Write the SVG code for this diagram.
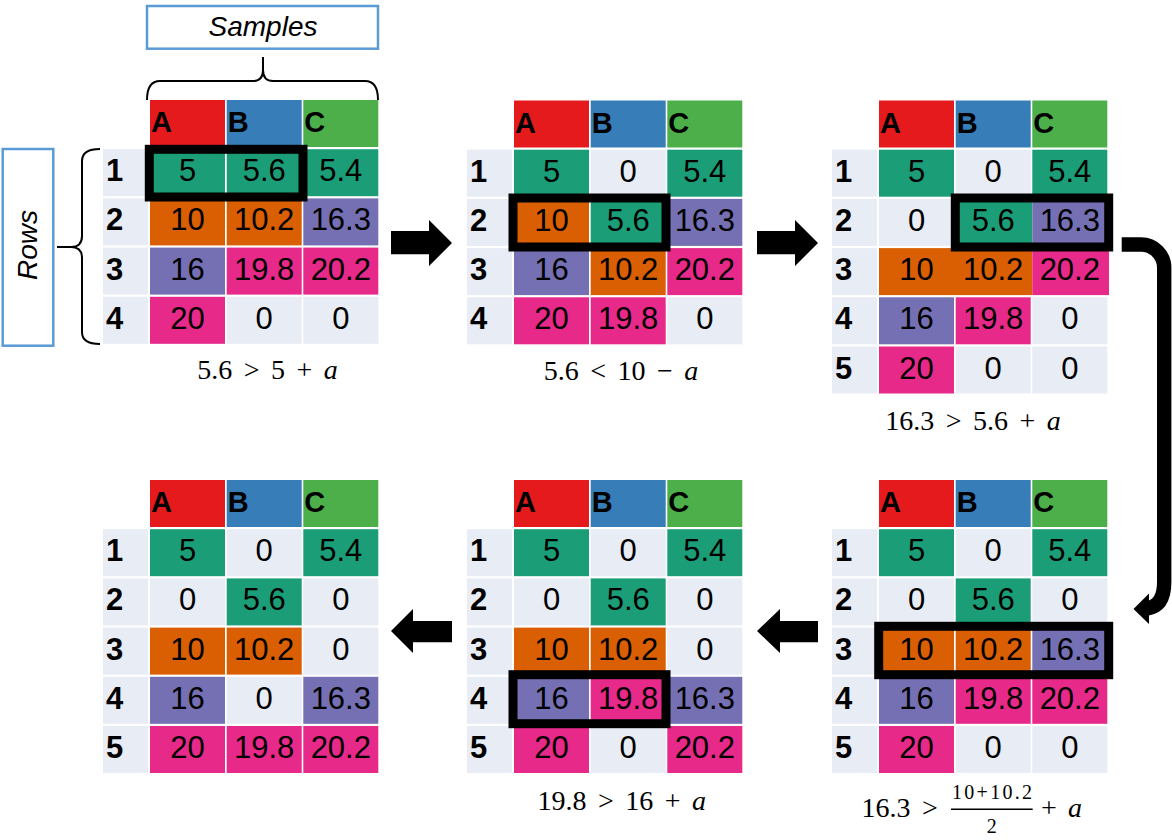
<svg xmlns="http://www.w3.org/2000/svg" width="1172" height="840" viewBox="0 0 1172 840">
<style>
.lt{fill:#E8ECF4}.tl{fill:#1B9E77}.or{fill:#D95F02}.pu{fill:#7570B3}.pk{fill:#E7298A}
.rd{fill:#E41A1C}.bl{fill:#377EB8}.gr{fill:#4DAF4A}
text{font-family:"Liberation Sans",Arial,sans-serif;fill:#000}
.hd{font-size:29px;font-weight:bold}
.rl{font-size:31px;font-weight:bold}
.v{font-size:31px;text-anchor:middle}
.box{fill:none;stroke:#000;stroke-width:9}
.fm{font-family:"Liberation Serif","DejaVu Serif",serif;font-size:28px;text-anchor:middle;word-spacing:4.5px}
.fs{font-family:"Liberation Serif","DejaVu Serif",serif;font-size:20px;text-anchor:middle}
.it{font-style:italic}
.lbl{fill:#fff;stroke:#5B9BD5;stroke-width:2.5}
.lt2{font-size:28px;font-style:italic;text-anchor:middle}
.brace{fill:none;stroke:#000;stroke-width:2}
.arr{fill:#000}
</style>

<g id="labels">
  <g id="samples-label">
    <rect class="lbl" x="147" y="6" width="231" height="42.7"/>
    <text class="lt2" x="263" y="36">Samples</text>
  </g>
  <g id="rows-label">
    <rect class="lbl" x="2.7" y="149" width="50.6" height="196.7"/>
    <text class="lt2" transform="translate(37,245) rotate(-90)">Rows</text>
  </g>
  <path class="brace" d="M147,100 Q147,81 160,81 L253,81 Q263,81 263,70 L263,57 M263,70 Q263,81 273,81 L365,81 Q378,81 378,100"/>
  <path class="brace" d="M100,149 Q82,149 82,161 L82,236 Q82,247 71,247 L57,247 M71,247 Q82,247 82,258 L82,332 Q82,344 100,344"/>
</g>

<g id="panel1" transform="translate(150,100)">
  <rect class="rd" x="0" y="0" width="75" height="47"/><rect class="bl" x="76.7" y="0" width="75" height="47"/><rect class="gr" x="153.3" y="0" width="75" height="47"/>
  <text class="hd" x="1" y="32">A</text><text class="hd" x="77.7" y="32">B</text><text class="hd" x="154.3" y="32">C</text>
  <rect class="lt" x="-47" y="49.2" width="45" height="47"/><rect class="lt" x="-47" y="98.4" width="45" height="47"/><rect class="lt" x="-47" y="147.6" width="45" height="47"/><rect class="lt" x="-47" y="196.8" width="45" height="47"/>
  <text class="rl" x="-44" y="81.2">1</text><text class="rl" x="-44" y="130.4">2</text><text class="rl" x="-44" y="179.6">3</text><text class="rl" x="-44" y="228.8">4</text>
  <rect class="tl" x="0" y="49.2" width="75" height="47"/><rect class="tl" x="76.7" y="49.2" width="75" height="47"/><rect class="tl" x="153.3" y="49.2" width="75" height="47"/>
  <rect class="or" x="0" y="98.4" width="75" height="47"/><rect class="or" x="76.7" y="98.4" width="75" height="47"/><rect class="pu" x="153.3" y="98.4" width="75" height="47"/>
  <rect class="pu" x="0" y="147.6" width="75" height="47"/><rect class="pk" x="76.7" y="147.6" width="75" height="47"/><rect class="pk" x="153.3" y="147.6" width="75" height="47"/>
  <rect class="pk" x="0" y="196.8" width="75" height="47"/><rect class="lt" x="76.7" y="196.8" width="75" height="47"/><rect class="lt" x="153.3" y="196.8" width="75" height="47"/>
  <text class="v" x="37.5" y="81.2">5</text><text class="v" x="114.2" y="81.2">5.6</text><text class="v" x="190.8" y="81.2">5.4</text>
  <text class="v" x="37.5" y="130.4">10</text><text class="v" x="114.2" y="130.4">10.2</text><text class="v" x="190.8" y="130.4">16.3</text>
  <text class="v" x="37.5" y="179.6">16</text><text class="v" x="114.2" y="179.6">19.8</text><text class="v" x="190.8" y="179.6">20.2</text>
  <text class="v" x="37.5" y="228.8">20</text><text class="v" x="114.2" y="228.8">0</text><text class="v" x="190.8" y="228.8">0</text>
  <rect class="box" x="-0.7" y="49.3" width="153.7" height="47.7"/>
  <text class="fm" x="117.5" y="279">5.6 &gt; 5 + <tspan class="it">a</tspan></text>
</g>

<g id="panel2" transform="translate(514,100.5)">
  <rect class="rd" x="0" y="0" width="75" height="47"/><rect class="bl" x="76.7" y="0" width="75" height="47"/><rect class="gr" x="153.3" y="0" width="75" height="47"/>
  <text class="hd" x="1" y="32">A</text><text class="hd" x="77.7" y="32">B</text><text class="hd" x="154.3" y="32">C</text>
  <rect class="lt" x="-47" y="49.2" width="45" height="47"/><rect class="lt" x="-47" y="98.4" width="45" height="47"/><rect class="lt" x="-47" y="147.6" width="45" height="47"/><rect class="lt" x="-47" y="196.8" width="45" height="47"/>
  <text class="rl" x="-44" y="81.2">1</text><text class="rl" x="-44" y="130.4">2</text><text class="rl" x="-44" y="179.6">3</text><text class="rl" x="-44" y="228.8">4</text>
  <rect class="tl" x="0" y="49.2" width="75" height="47"/><rect class="lt" x="76.7" y="49.2" width="75" height="47"/><rect class="tl" x="153.3" y="49.2" width="75" height="47"/>
  <rect class="or" x="0" y="98.4" width="75" height="47"/><rect class="tl" x="76.7" y="98.4" width="75" height="47"/><rect class="pu" x="153.3" y="98.4" width="75" height="47"/>
  <rect class="pu" x="0" y="147.6" width="75" height="47"/><rect class="or" x="76.7" y="147.6" width="75" height="47"/><rect class="pk" x="153.3" y="147.6" width="75" height="47"/>
  <rect class="pk" x="0" y="196.8" width="75" height="47"/><rect class="pk" x="76.7" y="196.8" width="75" height="47"/><rect class="lt" x="153.3" y="196.8" width="75" height="47"/>
  <text class="v" x="37.5" y="81.2">5</text><text class="v" x="114.2" y="81.2">0</text><text class="v" x="190.8" y="81.2">5.4</text>
  <text class="v" x="37.5" y="130.4">10</text><text class="v" x="114.2" y="130.4">5.6</text><text class="v" x="190.8" y="130.4">16.3</text>
  <text class="v" x="37.5" y="179.6">16</text><text class="v" x="114.2" y="179.6">10.2</text><text class="v" x="190.8" y="179.6">20.2</text>
  <text class="v" x="37.5" y="228.8">20</text><text class="v" x="114.2" y="228.8">19.8</text><text class="v" x="190.8" y="228.8">0</text>
  <rect class="box" x="-1" y="97.5" width="153" height="49"/>
  <text class="fm" x="107" y="279.5">5.6 &lt; 10  − <tspan class="it">a</tspan></text>
</g>

<g id="panel3" transform="translate(879,100.5)">
  <rect class="rd" x="0" y="0" width="75" height="47"/><rect class="bl" x="76.7" y="0" width="75" height="47"/><rect class="gr" x="153.3" y="0" width="75" height="47"/>
  <text class="hd" x="1" y="32">A</text><text class="hd" x="77.7" y="32">B</text><text class="hd" x="154.3" y="32">C</text>
  <rect class="lt" x="-47" y="49.2" width="45" height="47"/><rect class="lt" x="-47" y="98.4" width="45" height="47"/><rect class="lt" x="-47" y="147.6" width="45" height="47"/><rect class="lt" x="-47" y="196.8" width="45" height="47"/><rect class="lt" x="-47" y="246" width="45" height="47"/>
  <text class="rl" x="-44" y="81.2">1</text><text class="rl" x="-44" y="130.4">2</text><text class="rl" x="-44" y="179.6">3</text><text class="rl" x="-44" y="228.8">4</text><text class="rl" x="-44" y="278">5</text>
  <rect class="tl" x="0" y="49.2" width="75" height="47"/><rect class="lt" x="76.7" y="49.2" width="75" height="47"/><rect class="tl" x="153.3" y="49.2" width="75" height="47"/>
  <rect class="lt" x="0" y="98.4" width="75" height="47"/><rect class="tl" x="76.7" y="98.4" width="76.6" height="47"/><rect class="pu" x="153.3" y="98.4" width="75" height="47"/>
  <rect class="or" x="0" y="147.6" width="153.3" height="47"/><rect class="pk" x="153.3" y="147.6" width="76.7" height="47"/>
  <rect class="pu" x="0" y="196.8" width="75" height="47"/><rect class="pk" x="76.7" y="196.8" width="75" height="47"/><rect class="lt" x="153.3" y="196.8" width="75" height="47"/>
  <rect class="pk" x="0" y="246" width="75" height="47"/><rect class="lt" x="76.7" y="246" width="75" height="47"/><rect class="lt" x="153.3" y="246" width="75" height="47"/>
  <text class="v" x="37.5" y="81.2">5</text><text class="v" x="114.2" y="81.2">0</text><text class="v" x="190.8" y="81.2">5.4</text>
  <text class="v" x="37.5" y="130.4">0</text><text class="v" x="114.2" y="130.4">5.6</text><text class="v" x="190.8" y="130.4">16.3</text>
  <text class="v" x="37.5" y="179.6">10</text><text class="v" x="114.2" y="179.6">10.2</text><text class="v" x="190.8" y="179.6">20.2</text>
  <text class="v" x="37.5" y="228.8">16</text><text class="v" x="114.2" y="228.8">19.8</text><text class="v" x="190.8" y="228.8">0</text>
  <text class="v" x="37.5" y="278">20</text><text class="v" x="114.2" y="278">0</text><text class="v" x="190.8" y="278">0</text>
  <rect class="box" x="76.3" y="97.5" width="153.4" height="49"/>
  <text class="fm" x="94" y="329.5">16.3 &gt; 5.6 + <tspan class="it">a</tspan></text>
</g>

<g id="panel4" transform="translate(879,480)">
  <rect class="rd" x="0" y="0" width="75" height="47"/><rect class="bl" x="76.7" y="0" width="75" height="47"/><rect class="gr" x="153.3" y="0" width="75" height="47"/>
  <text class="hd" x="1" y="32">A</text><text class="hd" x="77.7" y="32">B</text><text class="hd" x="154.3" y="32">C</text>
  <rect class="lt" x="-47" y="49.2" width="45" height="47"/><rect class="lt" x="-47" y="98.4" width="45" height="47"/><rect class="lt" x="-47" y="147.6" width="45" height="47"/><rect class="lt" x="-47" y="196.8" width="45" height="47"/><rect class="lt" x="-47" y="246" width="45" height="47"/>
  <text class="rl" x="-44" y="81.2">1</text><text class="rl" x="-44" y="130.4">2</text><text class="rl" x="-44" y="179.6">3</text><text class="rl" x="-44" y="228.8">4</text><text class="rl" x="-44" y="278">5</text>
  <rect class="tl" x="0" y="49.2" width="75" height="47"/><rect class="lt" x="76.7" y="49.2" width="75" height="47"/><rect class="tl" x="153.3" y="49.2" width="75" height="47"/>
  <rect class="lt" x="0" y="98.4" width="75" height="47"/><rect class="tl" x="76.7" y="98.4" width="75" height="47"/><rect class="lt" x="153.3" y="98.4" width="75" height="47"/>
  <rect class="or" x="0" y="147.6" width="75" height="47"/><rect class="or" x="76.7" y="147.6" width="75" height="47"/><rect class="pu" x="153.3" y="147.6" width="75" height="47"/>
  <rect class="pu" x="0" y="196.8" width="75" height="47"/><rect class="pk" x="76.7" y="196.8" width="75" height="47"/><rect class="pk" x="153.3" y="196.8" width="75" height="47"/>
  <rect class="pk" x="0" y="246" width="75" height="47"/><rect class="lt" x="76.7" y="246" width="75" height="47"/><rect class="lt" x="153.3" y="246" width="75" height="47"/>
  <text class="v" x="37.5" y="81.2">5</text><text class="v" x="114.2" y="81.2">0</text><text class="v" x="190.8" y="81.2">5.4</text>
  <text class="v" x="37.5" y="130.4">0</text><text class="v" x="114.2" y="130.4">5.6</text><text class="v" x="190.8" y="130.4">0</text>
  <text class="v" x="37.5" y="179.6">10</text><text class="v" x="114.2" y="179.6">10.2</text><text class="v" x="190.8" y="179.6">16.3</text>
  <text class="v" x="37.5" y="228.8">16</text><text class="v" x="114.2" y="228.8">19.8</text><text class="v" x="190.8" y="228.8">20.2</text>
  <text class="v" x="37.5" y="278">20</text><text class="v" x="114.2" y="278">0</text><text class="v" x="190.8" y="278">0</text>
  <rect class="box" x="-0.3" y="146.3" width="230" height="48.4"/>
</g>
<g id="formula4">
  <text class="fm" x="886" y="816.7">16.3</text>
  <text class="fm" x="930" y="816.7">&gt;</text>
  <text class="fs" x="992" y="799.3" textLength="80" lengthAdjust="spacing">10+10.2</text>
  <line x1="951" y1="809.3" x2="1032.7" y2="809.3" stroke="#000" stroke-width="1.5"/>
  <text class="fs" x="991.7" y="833.3">2</text>
  <text class="fm" x="1049" y="816.7">+</text>
  <text class="fm it" x="1075" y="816.7">a</text>
</g>

<g id="panel5" transform="translate(514,480)">
  <rect class="rd" x="0" y="0" width="75" height="47"/><rect class="bl" x="76.7" y="0" width="75" height="47"/><rect class="gr" x="153.3" y="0" width="75" height="47"/>
  <text class="hd" x="1" y="32">A</text><text class="hd" x="77.7" y="32">B</text><text class="hd" x="154.3" y="32">C</text>
  <rect class="lt" x="-47" y="49.2" width="45" height="47"/><rect class="lt" x="-47" y="98.4" width="45" height="47"/><rect class="lt" x="-47" y="147.6" width="45" height="47"/><rect class="lt" x="-47" y="196.8" width="45" height="47"/><rect class="lt" x="-47" y="246" width="45" height="47"/>
  <text class="rl" x="-44" y="81.2">1</text><text class="rl" x="-44" y="130.4">2</text><text class="rl" x="-44" y="179.6">3</text><text class="rl" x="-44" y="228.8">4</text><text class="rl" x="-44" y="278">5</text>
  <rect class="tl" x="0" y="49.2" width="75" height="47"/><rect class="lt" x="76.7" y="49.2" width="75" height="47"/><rect class="tl" x="153.3" y="49.2" width="75" height="47"/>
  <rect class="lt" x="0" y="98.4" width="75" height="47"/><rect class="tl" x="76.7" y="98.4" width="75" height="47"/><rect class="lt" x="153.3" y="98.4" width="75" height="47"/>
  <rect class="or" x="0" y="147.6" width="75" height="47"/><rect class="or" x="76.7" y="147.6" width="75" height="47"/><rect class="lt" x="153.3" y="147.6" width="75" height="47"/>
  <rect class="pu" x="0" y="196.8" width="75" height="47"/><rect class="pk" x="76.7" y="196.8" width="75" height="47"/><rect class="pu" x="153.3" y="196.8" width="75" height="47"/>
  <rect class="pk" x="0" y="246" width="75" height="47"/><rect class="lt" x="76.7" y="246" width="75" height="47"/><rect class="pk" x="153.3" y="246" width="75" height="47"/>
  <text class="v" x="37.5" y="81.2">5</text><text class="v" x="114.2" y="81.2">0</text><text class="v" x="190.8" y="81.2">5.4</text>
  <text class="v" x="37.5" y="130.4">0</text><text class="v" x="114.2" y="130.4">5.6</text><text class="v" x="190.8" y="130.4">0</text>
  <text class="v" x="37.5" y="179.6">10</text><text class="v" x="114.2" y="179.6">10.2</text><text class="v" x="190.8" y="179.6">0</text>
  <text class="v" x="37.5" y="228.8">16</text><text class="v" x="114.2" y="228.8">19.8</text><text class="v" x="190.8" y="228.8">16.3</text>
  <text class="v" x="37.5" y="278">20</text><text class="v" x="114.2" y="278">0</text><text class="v" x="190.8" y="278">20.2</text>
  <rect class="box" x="-1" y="194.7" width="153" height="49"/>
  <text class="fm" x="107.7" y="330">19.8 &gt; 16 + <tspan class="it">a</tspan></text>
</g>

<g id="panel6" transform="translate(150,480)">
  <rect class="rd" x="0" y="0" width="75" height="47"/><rect class="bl" x="76.7" y="0" width="75" height="47"/><rect class="gr" x="153.3" y="0" width="75" height="47"/>
  <text class="hd" x="1" y="32">A</text><text class="hd" x="77.7" y="32">B</text><text class="hd" x="154.3" y="32">C</text>
  <rect class="lt" x="-47" y="49.2" width="45" height="47"/><rect class="lt" x="-47" y="98.4" width="45" height="47"/><rect class="lt" x="-47" y="147.6" width="45" height="47"/><rect class="lt" x="-47" y="196.8" width="45" height="47"/><rect class="lt" x="-47" y="246" width="45" height="47"/>
  <text class="rl" x="-44" y="81.2">1</text><text class="rl" x="-44" y="130.4">2</text><text class="rl" x="-44" y="179.6">3</text><text class="rl" x="-44" y="228.8">4</text><text class="rl" x="-44" y="278">5</text>
  <rect class="tl" x="0" y="49.2" width="75" height="47"/><rect class="lt" x="76.7" y="49.2" width="75" height="47"/><rect class="tl" x="153.3" y="49.2" width="75" height="47"/>
  <rect class="lt" x="0" y="98.4" width="75" height="47"/><rect class="tl" x="76.7" y="98.4" width="75" height="47"/><rect class="lt" x="153.3" y="98.4" width="75" height="47"/>
  <rect class="or" x="0" y="147.6" width="75" height="47"/><rect class="or" x="76.7" y="147.6" width="75" height="47"/><rect class="lt" x="153.3" y="147.6" width="75" height="47"/>
  <rect class="pu" x="0" y="196.8" width="75" height="47"/><rect class="lt" x="76.7" y="196.8" width="75" height="47"/><rect class="pu" x="153.3" y="196.8" width="75" height="47"/>
  <rect class="pk" x="0" y="246" width="75" height="47"/><rect class="pk" x="76.7" y="246" width="75" height="47"/><rect class="pk" x="153.3" y="246" width="75" height="47"/>
  <text class="v" x="37.5" y="81.2">5</text><text class="v" x="114.2" y="81.2">0</text><text class="v" x="190.8" y="81.2">5.4</text>
  <text class="v" x="37.5" y="130.4">0</text><text class="v" x="114.2" y="130.4">5.6</text><text class="v" x="190.8" y="130.4">0</text>
  <text class="v" x="37.5" y="179.6">10</text><text class="v" x="114.2" y="179.6">10.2</text><text class="v" x="190.8" y="179.6">0</text>
  <text class="v" x="37.5" y="228.8">16</text><text class="v" x="114.2" y="228.8">0</text><text class="v" x="190.8" y="228.8">16.3</text>
  <text class="v" x="37.5" y="278">20</text><text class="v" x="114.2" y="278">19.8</text><text class="v" x="190.8" y="278">20.2</text>
</g>

<g id="connectors">
  <polygon class="arr" points="391,231 429,231 429,220 452,243 429,266 429,254.3 391,254.3"/>
  <polygon class="arr" points="757,231 795,231 795,220 818,243 795,266 795,254.3 757,254.3"/>
  <path d="M1121.7,244.5 H1141 A23.2,23.2 0 0 1 1164.2,267.7 V582 Q1164.2,606 1147,608.5" fill="none" stroke="#000" stroke-width="14.4"/>
  <polygon class="arr" points="1133.5,609 1149,593.5 1149,624"/>
  <polygon class="arr" points="757,631 780,609 780,621 818,621 818,642.3 780,642.3 780,653"/>
  <polygon class="arr" points="391,631 413,609 413,621 452,621 452,642.3 413,642.3 413,653"/>
</g>
</svg>
